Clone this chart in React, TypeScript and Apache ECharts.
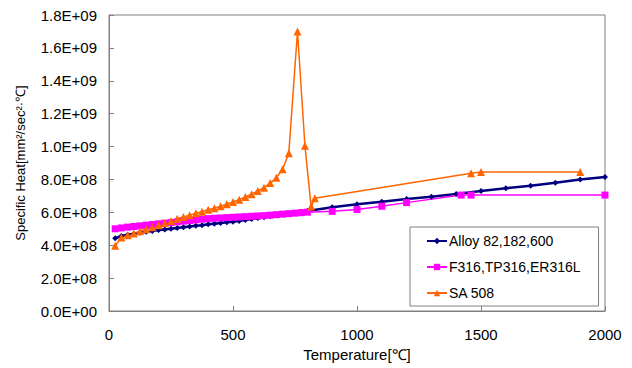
import React, { useEffect, useRef } from "react";
import * as echarts from "echarts";

const alloyTemps = [25, 50, 75, 100, 125, 150, 175, 200, 225, 250, 275, 300, 325, 350, 375, 400, 425, 450, 475, 500, 525, 550, 575, 600, 625, 650, 675, 700, 725, 750, 775, 800, 900, 1000, 1100, 1200, 1300, 1400, 1500, 1600, 1700, 1800, 1900, 2000];
const alloyHeat = [4.42e8, 4.56e8, 4.64e8, 4.70e8, 4.76e8, 4.82e8, 4.86e8, 4.92e8, 4.96e8, 5.00e8, 5.05e8, 5.10e8, 5.14e8, 5.18e8, 5.22e8, 5.27e8, 5.31e8, 5.35e8, 5.39e8, 5.43e8, 5.48e8, 5.53e8, 5.59e8, 5.65e8, 5.70e8, 5.76e8, 5.82e8, 5.88e8, 5.93e8, 5.98e8, 6.03e8, 6.08e8, 6.31e8, 6.49e8, 6.65e8, 6.81e8, 6.95e8, 7.12e8, 7.30e8, 7.46e8, 7.62e8, 7.80e8, 7.99e8, 8.15e8];

const f316Temps = [25, 50, 75, 100, 125, 150, 175, 200, 225, 250, 275, 300, 325, 350, 375, 400, 425, 450, 475, 500, 525, 550, 575, 600, 625, 650, 675, 700, 725, 750, 775, 800, 900, 1000, 1100, 1200, 1420, 1460, 2000];
const f316Heat = [5.00e8, 5.05e8, 5.10e8, 5.14e8, 5.18e8, 5.22e8, 5.26e8, 5.30e8, 5.34e8, 5.38e8, 5.42e8, 5.46e8, 5.50e8, 5.54e8, 5.58e8, 5.62e8, 5.64e8, 5.66e8, 5.68e8, 5.70e8, 5.72e8, 5.74e8, 5.76e8, 5.78e8, 5.80e8, 5.83e8, 5.86e8, 5.89e8, 5.92e8, 5.95e8, 5.98e8, 6.01e8, 6.06e8, 6.17e8, 6.37e8, 6.59e8, 7.05e8, 7.05e8, 7.05e8];

const sa508Temps = [25, 50, 75, 100, 125, 150, 175, 200, 225, 250, 275, 300, 325, 350, 375, 400, 425, 450, 475, 500, 525, 550, 575, 600, 625, 650, 675, 700, 725, 760, 790, 815, 830, 1460, 1500, 1900];
const sa508Heat = [3.97e8, 4.47e8, 4.60e8, 4.72e8, 4.85e8, 4.97e8, 5.09e8, 5.21e8, 5.33e8, 5.48e8, 5.61e8, 5.72e8, 5.83e8, 5.94e8, 6.04e8, 6.16e8, 6.25e8, 6.37e8, 6.49e8, 6.63e8, 6.77e8, 6.93e8, 7.10e8, 7.30e8, 7.50e8, 7.78e8, 8.10e8, 8.62e8, 9.60e8, 17.0e8, 10.05e8, 6.35e8, 6.85e8, 8.37e8, 8.45e8, 8.45e8];

const seriesNames = ["Alloy 82,182,600", "F316,TP316,ER316L", "SA 508"];
const xTitle = "Temperature[℃]";
const yTitle = "Specific Heat[mm²/sec²·℃]";

const FONT = "'Liberation Sans', Arial, sans-serif";

function sci(v: number): string {
  if (v === 0) return "0.0E+00";
  const e = Math.floor(Math.log10(v) + 1e-9);
  const m = v / Math.pow(10, e);
  return m.toFixed(1) + "E+" + String(e).padStart(2, "0");
}

function pairs(xs: number[], ys: number[]) {
  return xs.map((x, i) => [x, ys[i]]);
}

export default function App() {
  const ref = useRef<HTMLDivElement>(null);
  useEffect(() => {
    if (!ref.current) return;
    const chart = echarts.init(ref.current, undefined, { renderer: "svg" });
    const axisGray = "#808080";
    chart.setOption({
      animation: false,
      backgroundColor: "#ffffff",
      textStyle: { fontFamily: FONT, color: "#000" },
      grid: {
        left: 109,
        right: 27,
        top: 15,
        bottom: 57,
        show: true,
        borderColor: axisGray,
        borderWidth: 1,
        backgroundColor: "#ffffff",
      },
      xAxis: {
        type: "value",
        min: 0,
        max: 2000,
        interval: 500,
        name: xTitle,
        nameLocation: "middle",
        nameGap: 36,
        nameTextStyle: { fontFamily: FONT, fontSize: 15, color: "#000" },
        axisLine: { show: true, lineStyle: { color: axisGray, width: 1 } },
        axisTick: { show: true, inside: true, length: 5, lineStyle: { color: axisGray } },
        axisLabel: { fontFamily: FONT, fontSize: 15, color: "#000", margin: 16, formatter: (v: number) => String(v) },
        splitLine: { show: false },
      },
      yAxis: {
        type: "value",
        min: 0,
        max: 1.8e9,
        interval: 2e8,
        name: yTitle,
        nameLocation: "middle",
        nameRotate: 90,
        nameGap: 82,
        nameTextStyle: { fontFamily: FONT, fontSize: 13, color: "#000" },
        axisLine: { show: true, lineStyle: { color: axisGray, width: 1 } },
        axisTick: { show: true, inside: true, length: 5, lineStyle: { color: axisGray } },
        axisLabel: { fontFamily: FONT, fontSize: 15, color: "#000", margin: 12, formatter: (v: number) => sci(v) },
        splitLine: { show: false },
      },
      legend: {
        orient: "vertical",
        left: 410,
        top: 227,
        padding: [6, 18, 5, 16],
        itemWidth: 20,
        itemHeight: 8,
        itemGap: 10,
        borderColor: axisGray,
        borderWidth: 1,
        backgroundColor: "#ffffff",
        textStyle: { fontFamily: FONT, fontSize: 14, color: "#000", padding: [0, 0, 0, -3], lineHeight: 16 },
        data: seriesNames,
      },
      series: [
        {
          name: seriesNames[0],
          type: "line",
          data: pairs(alloyTemps, alloyHeat),
          symbol: "diamond",
          symbolSize: 6,
          color: "#000080",
          lineStyle: { color: "#000080", width: 2.5 },
          itemStyle: { color: "#000080" },
        },
        {
          name: seriesNames[1],
          type: "line",
          data: pairs(f316Temps, f316Heat),
          symbol: "rect",
          symbolSize: 7,
          color: "#FF00FF",
          lineStyle: { color: "#FF00FF", width: 1.5 },
          itemStyle: { color: "#FF00FF" },
        },
        {
          name: seriesNames[2],
          type: "line",
          data: pairs(sa508Temps, sa508Heat),
          symbol: "triangle",
          symbolSize: 8,
          color: "#FF6600",
          lineStyle: { color: "#FF6600", width: 1.5 },
          itemStyle: { color: "#FF6600" },
        },
      ],
    });
    return () => chart.dispose();
  }, []);
  return <div ref={ref} style={{ width: 632, height: 368, position: "absolute", left: 0, top: 0 }} />;
}
